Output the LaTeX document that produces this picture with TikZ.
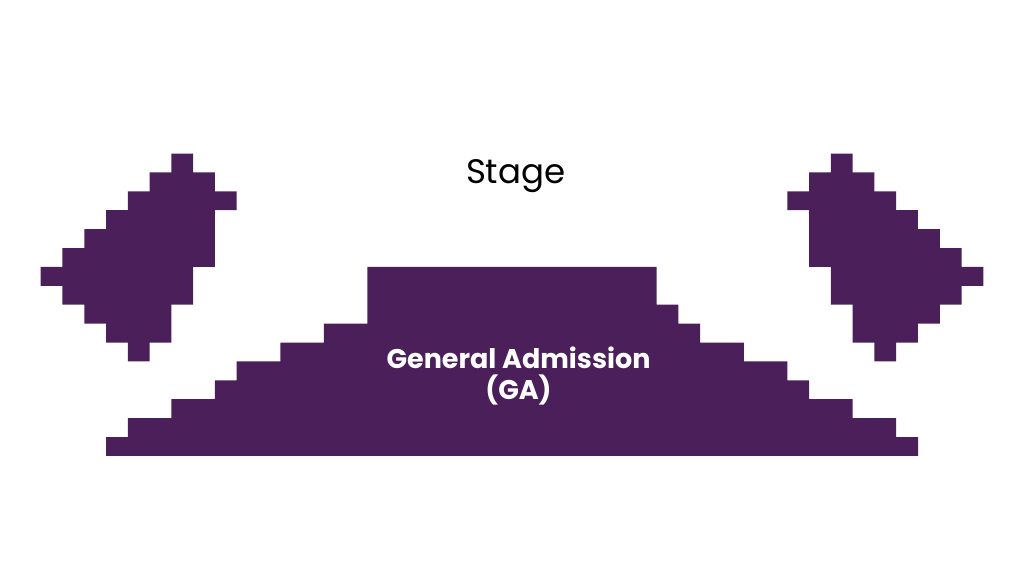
\documentclass[tikz,border=0pt]{standalone}
\usepackage{fontspec}
\usepackage{xcolor}
\usepackage{tikz}
\setmainfont{Poppins}
\definecolor{bg}{HTML}{FFFFFF}
\definecolor{seat}{HTML}{4B205A}
\definecolor{ink}{HTML}{000000}
\tikzset{
  block/.style={fill=seat, draw=none},
  stagelab/.style={text=ink, font=\fontsize{34}{40}\selectfont},
  galab/.style={text=white, font=\fontsize{27}{31}\selectfont\bfseries, align=center},
}

\begin{document}
\begin{tikzpicture}[x=1pt, y=-1pt]
  \def\cw{21.78}
  \def\rh{18.9}
  \def\W{43.28}
  \fill[bg] (0,0) rectangle (1024,576);
  \useasboundingbox (0,0) rectangle (1024,576);

  % left side block
  \begin{scope}[shift={(40.7,153.5)}, x=\cw pt, y=-\rh pt]
    \fill[block] (6,0) -- (7,0) -- (7,1) -- (8,1) -- (8,2) -- (9,2) -- (9,3) -- (8,3)
      -- (8,6) -- (7,6) -- (7,8) -- (6,8) -- (6,10) -- (5,10) -- (5,11) -- (4,11)
      -- (4,10) -- (3,10) -- (3,9) -- (2,9) -- (2,8) -- (1,8) -- (1,7) -- (0,7)
      -- (0,6) -- (1,6) -- (1,5) -- (2,5) -- (2,4) -- (3,4) -- (3,3) -- (4,3)
      -- (4,2) -- (5,2) -- (5,1) -- (6,1) -- cycle;
  \end{scope}

  % right side block (mirror)
  \begin{scope}[shift={(983.3,153.5)}, x=-\cw pt, y=-\rh pt]
    \fill[block] (6,0) -- (7,0) -- (7,1) -- (8,1) -- (8,2) -- (9,2) -- (9,3) -- (8,3)
      -- (8,6) -- (7,6) -- (7,8) -- (6,8) -- (6,10) -- (5,10) -- (5,11) -- (4,11)
      -- (4,10) -- (3,10) -- (3,9) -- (2,9) -- (2,8) -- (1,8) -- (1,7) -- (0,7)
      -- (0,6) -- (1,6) -- (1,5) -- (2,5) -- (2,4) -- (3,4) -- (3,3) -- (4,3)
      -- (4,2) -- (5,2) -- (5,1) -- (6,1) -- cycle;
  \end{scope}

  % general admission floor
  \begin{scope}[shift={(40.7,153.5)}, x=\cw pt, y=-\rh pt]
    \fill[block] (15,6) -- ({\W-15},6) -- ({\W-15},8) -- ({\W-14},8) -- ({\W-14},9)
      -- ({\W-13},9) -- ({\W-13},10) -- ({\W-11},10) -- ({\W-11},11) -- ({\W-9},11)
      -- ({\W-9},12) -- ({\W-8},12) -- ({\W-8},13) -- ({\W-6},13) -- ({\W-6},14)
      -- ({\W-4},14) -- ({\W-4},15) -- ({\W-3},15) -- ({\W-3},16)
      -- (3,16) -- (3,15) -- (4,15) -- (4,14) -- (6,14) -- (6,13) -- (8,13)
      -- (8,12) -- (9,12) -- (9,11) -- (11,11) -- (11,10) -- (13,10) -- (13,9)
      -- (15,9) -- cycle;
  \end{scope}

  \node[stagelab, anchor=base] (stage) at (515.7,183.3) {Stage};
  \node[galab] (ga) at (518.5,376) {General Admission\\(GA)};
\end{tikzpicture}
\end{document}
